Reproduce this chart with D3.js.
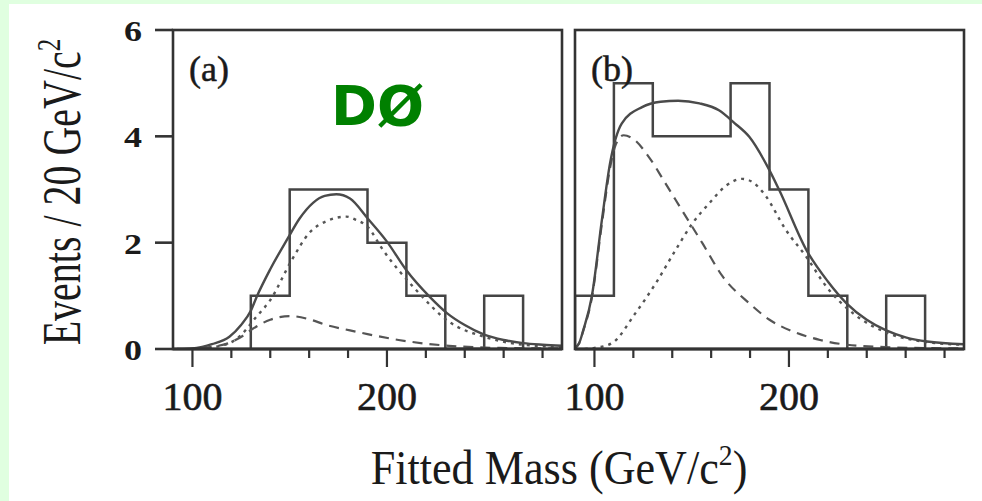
<!DOCTYPE html>
<html>
<head>
<meta charset="utf-8">
<script src="https://cdn.jsdelivr.net/npm/d3@7"></script>
<style>
  body { margin: 0; background: #e0ffe0; }
  svg { display: block; }
  text { font-family: "Liberation Serif", "DejaVu Serif", serif; fill: #1a1a1a; }
</style>
</head>
<body>
<svg id="chart" width="982" height="501"></svg>
<script>
// histogram bin edges (GeV/c^2) and counts
const edgesA = [130, 150, 170, 190, 210, 230, 250, 270];
const countsA = [1, 3, 3, 2, 1, 0, 1];
const edgesB = [90, 110, 130, 150, 170, 190, 210, 230, 250, 270];
const countsB = [1, 5, 4, 4, 5, 3, 1, 0, 1];

// fit curves: [mass, events]
const totalA = [[92, 0], [100, 0.01], [105, 0.04], [110, 0.09], [119, 0.23], [125, 0.45], [130, 0.72],
  [133, 0.98], [140, 1.5], [149, 2.08], [155, 2.45], [162, 2.75], [168, 2.88], [174, 2.91],
  [181, 2.83], [190, 2.46], [200, 2.02], [210, 1.48], [222, 0.98], [231, 0.67], [240, 0.45],
  [250, 0.27], [260, 0.17], [270, 0.11], [280, 0.08], [290, 0.06]];
const signalA = [[100, 0], [110, 0.03], [122, 0.17], [133, 0.61], [140, 0.92], [151, 1.67],
  [160, 2.18], [170, 2.42], [179, 2.49], [184, 2.43], [190, 2.3], [198, 1.86], [215, 1.11],
  [232, 0.51], [250, 0.23], [270, 0.08], [290, 0.04]];
const bkgA = [[96, 0], [110, 0.04], [120, 0.13], [126, 0.25], [131, 0.38], [140, 0.55],
  [150, 0.62], [160, 0.56], [169, 0.45], [181, 0.35], [190, 0.28], [206, 0.17], [220, 0.1],
  [232, 0.06], [258, 0.02], [290, 0.01]];

const totalB = [[89, 0], [92, 0.1], [94.3, 0.36], [98.6, 0.98], [103.8, 2.42], [108, 3.49],
  [114, 4.24], [124.5, 4.55], [134, 4.65], [143, 4.67], [154, 4.62], [164, 4.49], [172, 4.25],
  [179.6, 3.99], [189, 3.43], [195, 2.99], [209, 1.86], [220, 1.27], [229.6, 0.86], [240, 0.55],
  [250, 0.35], [260, 0.22], [271, 0.14], [290, 0.09]];
const bkgB = [[89, 0], [92, 0.1], [94.3, 0.35], [98.6, 0.95], [103.8, 2.35], [108, 3.4],
  [111, 3.85], [115, 4.02], [120, 3.95], [128, 3.61], [136.6, 3.11], [145, 2.61], [155.5, 1.99],
  [166, 1.36], [179.6, 0.86], [190, 0.55], [202, 0.33], [216, 0.17], [230, 0.08], [254, 0.03],
  [290, 0.01]];
const signalB = [[95, 0], [100, 0.02], [109, 0.11], [121, 0.67], [131.4, 1.23], [141.7, 1.86],
  [150.3, 2.36], [159, 2.74], [168, 3.08], [176, 3.2], [182, 3.12], [188, 2.88], [198.4, 2.24],
  [209, 1.73], [219.3, 1.17], [233, 0.67], [250, 0.31], [271, 0.13], [290, 0.08]];

const yTicks = [0, 2, 4, 6];
const xTicks = [100, 120, 140, 160, 180, 200, 220, 240, 260, 280];
const xLabels = [100, 200];

const svg = d3.select("#chart");

// white page inside the green border
svg.append("rect").attr("x", 9).attr("y", 4).attr("width", 973).attr("height", 497).attr("fill", "#fff");

const y = d3.scaleLinear().domain([0, 6]).range([349, 30]);
const ink = "#333";

function stepPoints(edges, counts) {
  const pts = [[edges[0], 0]];
  counts.forEach((c, i) => {
    pts.push([edges[i], c]);
    pts.push([edges[i + 1], c]);
  });
  pts.push([edges[edges.length - 1], 0]);
  return pts;
}

function drawPanel(id, x0, x1, edges, counts, total, signal, bkg, label, showY) {
  const x = d3.scaleLinear().domain([90, 290]).range([x0, x1]);
  const g = svg.append("g");

  g.append("clipPath").attr("id", "clip" + id)
    .append("rect").attr("x", x0).attr("y", y(6)).attr("width", x1 - x0).attr("height", y(0) - y(6));

  const curve = d3.line().x((d) => x(d[0])).y((d) => y(d[1])).curve(d3.curveMonotoneX);
  const lin = d3.line().x((d) => x(d[0])).y((d) => y(d[1]));

  const plot = g.append("g").attr("clip-path", `url(#clip${id})`);

  // histogram
  plot.append("path")
    .attr("d", lin(stepPoints(edges, counts)))
    .attr("fill", "none").attr("stroke", "#444").attr("stroke-width", 2.5);

  plot.append("path").attr("d", curve(bkg))
    .attr("fill", "none").attr("stroke", "#555").attr("stroke-width", 2.2)
    .attr("stroke-dasharray", "10,7");
  plot.append("path").attr("d", curve(signal))
    .attr("fill", "none").attr("stroke", "#555").attr("stroke-width", 2.4)
    .attr("stroke-dasharray", "3,5");
  plot.append("path").attr("d", curve(total))
    .attr("fill", "none").attr("stroke", "#4a4a4a").attr("stroke-width", 2.4);

  // frame
  g.append("rect")
    .attr("x", x0).attr("y", y(6)).attr("width", x1 - x0).attr("height", y(0) - y(6))
    .attr("fill", "none").attr("stroke", ink).attr("stroke-width", 2.6);
  g.append("line").attr("x1", x0).attr("x2", x1).attr("y1", y(0)).attr("y2", y(0))
    .attr("stroke", ink).attr("stroke-width", 3.2);

  // x ticks
  g.selectAll(".xt").data(xTicks).join("line")
    .attr("x1", (d) => x(d)).attr("x2", (d) => x(d))
    .attr("y1", y(0)).attr("y2", (d) => y(0) + (xLabels.includes(d) ? 18 : 9))
    .attr("stroke", ink).attr("stroke-width", 2.2);
  g.selectAll(".xl").data(xLabels).join("text")
    .attr("x", (d) => x(d)).attr("y", 410)
    .attr("text-anchor", "middle").attr("font-size", 40)
    .attr("stroke", "#1a1a1a").attr("stroke-width", 0.6)
    .text((d) => d);

  if (showY) {
    g.selectAll(".yt").data(yTicks).join("line")
      .attr("x1", x0 - 18).attr("x2", x0)
      .attr("y1", (d) => y(d)).attr("y2", (d) => y(d))
      .attr("stroke", ink).attr("stroke-width", 2.6);
    g.selectAll(".yl").data(yTicks).join("text")
      .attr("x", 124).attr("y", (d) => y(d) + 11)
      .attr("font-size", 30).attr("font-weight", "bold")
      .attr("textLength", 18).attr("lengthAdjust", "spacingAndGlyphs")
      .text((d) => d);
  }

  g.append("text").attr("x", x0 + 16).attr("y", 81)
    .attr("font-size", 36).attr("stroke", "#1a1a1a").attr("stroke-width", 0.5)
    .text(label);
}

drawPanel("a", 173, 562, edgesA, countsA, totalA, signalA, bkgA, "(a)", true);
drawPanel("b", 575, 964, edgesB, countsB, totalB, signalB, bkgB, "(b)", false);

// DØ logo
svg.append("text").attr("x", 331).attr("y", 125)
  .style("font-family", "'DejaVu Sans', sans-serif")
  .attr("font-size", 56).attr("font-weight", "bold")
  .attr("textLength", 93).attr("lengthAdjust", "spacingAndGlyphs")
  .style("fill", "#008000")
  .text("DØ");

// axis titles
const yt = svg.append("text")
  .attr("transform", "translate(80,192) rotate(-90) scale(0.74,1)")
  .attr("text-anchor", "middle").attr("font-size", 54);
yt.append("tspan").text("Events / 20 GeV/c");
yt.append("tspan").attr("dy", -20).attr("font-size", 34).text("2");

const xt = svg.append("text")
  .attr("transform", "translate(559,484) scale(0.92,1)")
  .attr("text-anchor", "middle").attr("font-size", 48);
xt.append("tspan").text("Fitted Mass (GeV/c");
xt.append("tspan").attr("dy", -19).attr("font-size", 30).text("2");
xt.append("tspan").attr("dy", 19).text(")");
</script>
</body>
</html>
